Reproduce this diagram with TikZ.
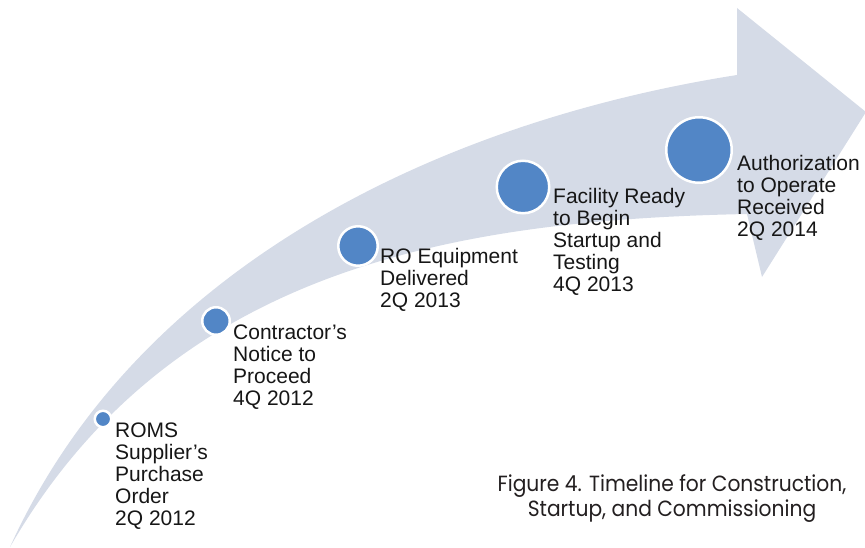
\documentclass[tikz,border=0pt]{standalone}
\usepackage{fontspec}
\setmainfont{Liberation Sans}
\newfontfamily\capfont[FakeStretch=0.92]{Poppins}
\usetikzlibrary{positioning}
\definecolor{bandgray}{RGB}{213,219,231}
\definecolor{ballblue}{RGB}{82,134,198}
\definecolor{inkblack}{RGB}{22,22,22}
\definecolor{capgray}{RGB}{35,31,32}
\tikzset{
    ball/.style={circle,fill=ballblue,draw=white,line width=2.5pt,inner sep=0pt,minimum size=#1},
    milestone/.style={anchor=north west,align=left,inner sep=0pt,text=inkblack,
        font=\fontsize{21}{22}\selectfont},
}

\begin{document}
\begin{tikzpicture}[x=1pt,y=-1pt]
	\useasboundingbox (0,0) rectangle (865,548);
	% the curved band with its arrow head
	\fill[bandgray] (10,547) .. controls (140,260) and (450,120) .. (737,75)
		-- (737,8) -- (866,112) -- (762,277) -- (747,214)
		.. controls (450,220) and (170,270) .. (10,547) -- cycle;
	% milestones, growing along the band
	\node[ball=16.5pt] (dot1) at (103,419) {};
	\node[ball=27.5pt] (dot2) at (216,321) {};
	\node[ball=39.5pt] (dot3) at (358,246) {};
	\node[ball=52.5pt] (dot4) at (523,187) {};
	\node[ball=65.5pt] (dot5) at (699,150) {};
	\node[milestone] (lbl1) at (115,423) {ROMS\\Supplier’s\\Purchase\\Order\\2Q 2012};
	\node[milestone] (lbl2) at (233,325) {Contractor’s\\Notice to\\Proceed\\4Q 2012};
	\node[milestone] (lbl3) at (380,248) {RO Equipment\\Delivered\\2Q 2013};
	\node[milestone] (lbl4) at (553,188) {Facility Ready\\to Begin\\Startup and\\Testing\\4Q 2013};
	\node[milestone] (lbl5) at (737,155) {Authorization\\to Operate\\Received\\2Q 2014};
	% caption
	\node[anchor=north,align=center,inner sep=0pt,text=capgray,
		font=\capfont\fontsize{22}{25}\selectfont] (caption) at (672,474)
		{Figure 4. Timeline for Construction,\\Startup, and Commissioning};
\end{tikzpicture}
\end{document}
